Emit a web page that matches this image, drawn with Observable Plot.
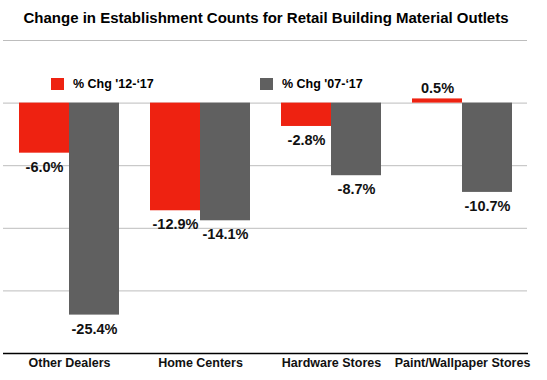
<!DOCTYPE html>
<html>
<head>
<meta charset="utf-8">
<script src="https://cdn.jsdelivr.net/npm/d3@7"></script>
<script src="https://cdn.jsdelivr.net/npm/@observablehq/plot@0.6"></script>
<style>
  html, body { margin: 0; padding: 0; background: #fff; }
  #wrap { position: relative; width: 547px; height: 380px; font-family: "Liberation Sans", Arial, Helvetica, sans-serif; }
  #title { position: absolute; left: 0; top: 9px; width: 532px; text-align: center; font-weight: bold; font-size: 15px; line-height: 18px; color: #000; }
  #chart { position: absolute; left: 0; top: 30px; }
  .lg { position: absolute; top: 78px; height: 12px; display: flex; align-items: center; font-weight: bold; font-size: 12.5px; color: #000; white-space: nowrap; }
  .lg .sw { width: 13px; height: 12px; margin-right: 9px; }
</style>
</head>
<body>
<div id="wrap">
  <div id="title">Change in Establishment Counts for Retail Building Material Outlets</div>
  <div id="chart"></div>
</div>
<script>
const categories = ["Other Dealers", "Home Centers", "Hardware Stores", "Paint/Wallpaper Stores"];
const seriesNames = ["% Chg '12-‘17", "% Chg '07-‘17"];
const chg12to17 = [-6.0, -12.9, -2.8, 0.5];
const chg07to17 = [-25.4, -14.1, -8.7, -10.7];
const gridTicks = [7.5, 0, -7.5, -15, -22.5];
const seriesColors = ["#ee2211", "#606060"];

const rowsA = categories.map((c, i) => ({category: c, value: chg12to17[i]}));
const rowsB = categories.map((c, i) => ({category: c, value: chg07to17[i]}));
const fmt = v => v.toFixed(1) + "%";

const labelStyle = {fontSize: 14.5, fontWeight: "bold", fill: "#111"};

const chart = Plot.plot({
  width: 547,
  height: 350,
  marginTop: 10,
  marginBottom: 27,
  marginLeft: 0,
  marginRight: 16,
  style: {fontFamily: "'Liberation Sans', Arial, Helvetica, sans-serif", background: "transparent"},
  x: {type: "band", domain: categories, paddingInner: 0.2366, paddingOuter: 0.145, axis: null},
  y: {domain: [-30, 7.5], axis: null},
  marks: [
    Plot.ruleY(gridTicks, {stroke: "#bdbdbd", strokeWidth: 1, insetLeft: 3, insetRight: 4}),
    Plot.barY(rowsA, {x: "category", y: "value", fill: seriesColors[0], insetRight: 50}),
    Plot.barY(rowsB, {x: "category", y: "value", fill: seriesColors[1], insetLeft: 50}),
    Plot.ruleY([-30], {stroke: "#000", strokeWidth: 1.5, insetLeft: 3, insetRight: 3}),
    Plot.text(rowsA, {x: "category", y: "value", text: d => fmt(d.value), dx: -25, dy: d => 0, ...labelStyle,
      filter: d => d.value < 0, dy: 14}),
    Plot.text(rowsA, {x: "category", y: "value", text: d => fmt(d.value), dx: -25, ...labelStyle,
      filter: d => d.value >= 0, dy: -11}),
    Plot.text(rowsB, {x: "category", y: "value", text: d => fmt(d.value), dx: 25, ...labelStyle,
      filter: d => d.value < 0, dy: 14}),
    Plot.text(categories, {x: d => d, frameAnchor: "bottom", dy: 13, fontSize: 12.5, fontWeight: "bold", fill: "#111"})
  ]
});
document.getElementById("chart").appendChild(chart);

const legendLefts = [51, 260];
seriesNames.forEach((name, i) => {
  const el = document.createElement("div");
  el.className = "lg";
  el.style.left = legendLefts[i] + "px";
  const sw = document.createElement("span");
  sw.className = "sw";
  sw.style.background = seriesColors[i];
  const tx = document.createElement("span");
  tx.textContent = name;
  el.appendChild(sw);
  el.appendChild(tx);
  document.getElementById("wrap").appendChild(el);
});
</script>
</body>
</html>
